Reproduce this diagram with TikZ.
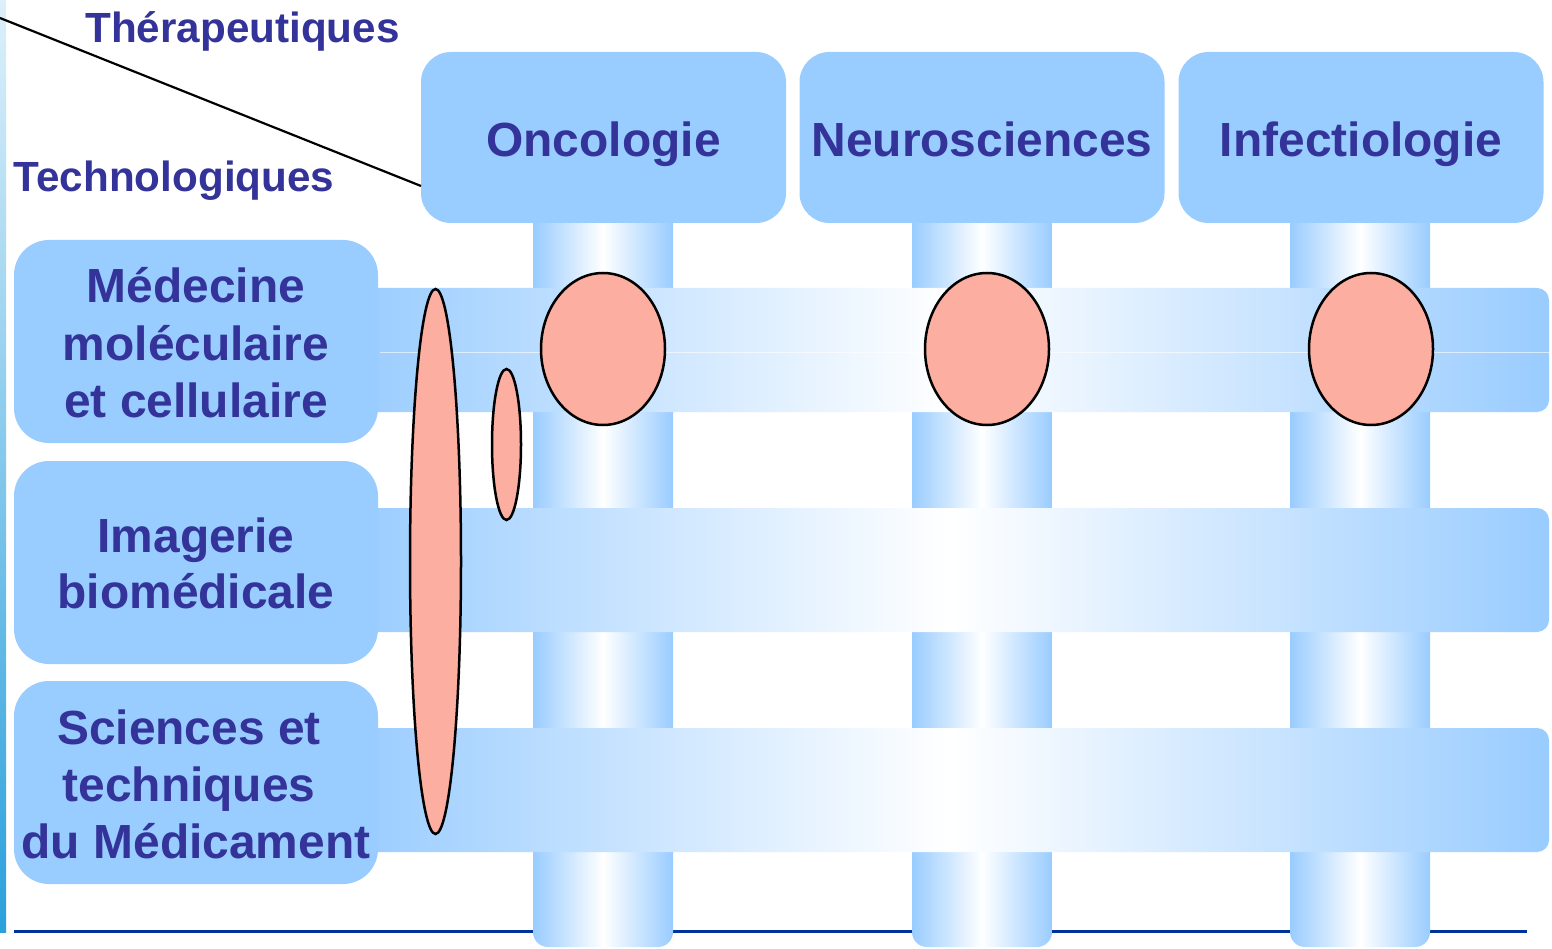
\documentclass[tikz,border=0pt]{standalone}
\usepackage{fontspec}
\setmainfont{Liberation Sans}
\usetikzlibrary{shapes.geometric}
\definecolor{boxblue}{HTML}{99CCFF}
\definecolor{txtblue}{HTML}{333399}
\definecolor{salmon}{HTML}{FCAEA0}
\definecolor{ruleblue}{HTML}{003399}
\definecolor{barTop}{HTML}{DDF0FB}
\definecolor{barBot}{HTML}{2AA0DC}
\begin{document}
\begin{tikzpicture}[x=1pt,y=-1pt,
  pillar/.style={left color=boxblue,right color=boxblue,middle color=white,rounded corners=15pt},
  band/.style={left color=boxblue,right color=boxblue,middle color=white,rounded corners=12pt},
  topbox/.style={rectangle,fill=boxblue,rounded corners=30pt,inner sep=0pt,minimum width=365pt,minimum height=171pt},
  leftbox/.style={rectangle,fill=boxblue,rounded corners=35pt,inner sep=0pt,minimum width=364pt,minimum height=203pt},
  bigtext/.style={anchor=base,inner sep=0pt,text=txtblue,font=\fontsize{47.9}{57}\selectfont\bfseries},
  headtext/.style={anchor=base,inner sep=0pt,text=txtblue,font=\fontsize{42.2}{50}\selectfont\bfseries},
  blob/.style={ellipse,draw=black,line width=2.5pt,fill=salmon,inner sep=0pt}]
\useasboundingbox (0,0) rectangle (1552,949);
\fill[white] (0,0) rectangle (1552,949);
% left gradient bar
\shade[top color=barTop,bottom color=barBot] (0,0) rectangle (6,932);
% bottom rule
\coordinate (ruleL) at (14,931);
\coordinate (ruleR) at (1527,931);
\draw[ruleblue,line width=3pt] (ruleL) -- (ruleR);
% pillars
\foreach \x in {533,912,1290}{
  \shade[pillar] (\x,200) rectangle (\x+140,947);
}
% top boxes
\node[topbox] (t1) at (603.5,137.5) {};
\node[topbox] (t2) at (982,137.5) {};
\node[topbox] (t3) at (1361,137.5) {};
% horizontal bands
\shade[band] (350,288) rectangle (1549,412);
\shade[band] (350,508) rectangle (1549,632);
\shade[band] (350,728) rectangle (1549,852);
\coordinate (fA) at (380,353);
\coordinate (fB) at (1549,353);
\draw[white,opacity=0.6,line width=1pt] (fA) -- (fB);
% left boxes
\node[leftbox] (l1) at (196,341.5) {};
\node[leftbox] (l2) at (196,562.5) {};
\node[leftbox] (l3) at (196,782.5) {};
% diagonal
\coordinate (dA) at (0,18);
\coordinate (dB) at (421,186);
\draw[black,line width=2.2pt] (dA) -- (dB);
% ellipses
\node[blob,minimum width=124pt,minimum height=152pt] (e1) at (603,349) {};
\node[blob,minimum width=124pt,minimum height=152pt] (e2) at (987,349) {};
\node[blob,minimum width=124pt,minimum height=152pt] (e3) at (1371,349) {};
\node[blob,minimum width=51pt,minimum height=545pt] (e4) at (435.5,561.5) {};
\node[blob,minimum width=29pt,minimum height=151pt] (e5) at (506.5,444.5) {};
% texts
\node[headtext] (h1) at (242.5,43) {Thérapeutiques};
\node[headtext] (h2) at (174,192) {Technologiques};
\node[bigtext] (x1) at (603.5,157) {Oncologie};
\node[bigtext] (x2) at (982,157) {Neurosciences};
\node[bigtext] (x3) at (1361,157) {Infectiologie};
\node[bigtext] (m1) at (196,302.7) {Médecine};
\node[bigtext] (m2) at (196,360) {moléculaire};
\node[bigtext] (m3) at (196,417) {et cellulaire};
\node[bigtext] (i1) at (196,552) {Imagerie};
\node[bigtext] (i2) at (196,608.5) {biomédicale};
\node[bigtext] (s1) at (189,744) {Sciences et};
\node[bigtext] (s2) at (189,801) {techniques};
\node[bigtext] (s3) at (196,858) {du Médicament};
\end{tikzpicture}
\end{document}
